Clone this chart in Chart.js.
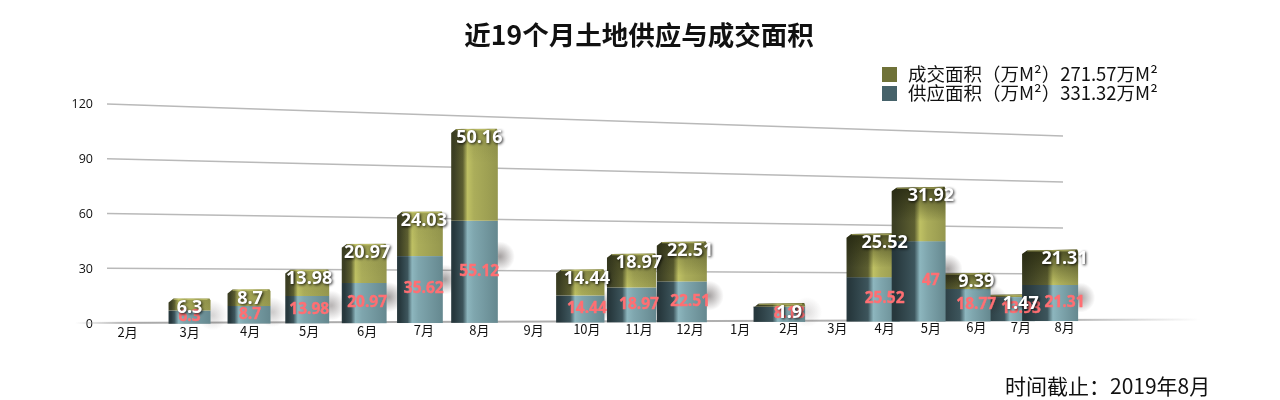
<!DOCTYPE html>
<html lang="zh">
<head>
<meta charset="utf-8">
<title>近19个月土地供应与成交面积</title>
<script src="https://cdn.jsdelivr.net/npm/chart.js@4"></script>
<style>
  html, body { margin: 0; padding: 0; background: #fff; }
  #wrap { position: relative; width: 1280px; height: 400px; overflow: hidden; font-family: "Noto Sans CJK SC", "Noto Sans", sans-serif; color: #111; }
  #title { position: absolute; left: 0; width: 1278px; top: 14px; text-align: center; font-size: 26.5px; line-height: 40px; font-weight: bold; }
  .legend-row { position: absolute; left: 882px; height: 18px; line-height: 18px; font-size: 18.5px; white-space: nowrap; }
  .legend-row i { display: inline-block; width: 15px; height: 15px; margin-right: 11px; vertical-align: -1px; }
  #note { position: absolute; left: 1005px; top: 371px; font-size: 21px; line-height: 28px; white-space: nowrap; }
</style>
</head>
<body>
<div id="wrap">
  <canvas id="chart" width="1280" height="400"></canvas>
  <div id="title"></div>
  <div class="legend-row" style="top:64px"><i style="background:#6f7238"></i><span id="legendDeal"></span></div>
  <div class="legend-row" style="top:83px"><i style="background:#46626a"></i><span id="legendSupply"></span></div>
  <div id="note">时间截止：2019年8月</div>
</div>
<script>
const titleText = '近19个月土地供应与成交面积';
const months = ['2月','3月','4月','5月','6月','7月','8月','9月','10月','11月','12月','1月','2月','3月','4月','5月','6月','7月','8月'];
const supplyValues = [null,6.3,8.7,13.98,20.97,35.62,55.12,null,14.44,18.97,22.51,null,8.18,null,25.52,47,18.77,13.93,21.31];
const dealValues = [null,6.3,8.7,13.98,20.97,24.03,50.16,null,14.44,18.97,22.51,null,1.9,null,25.52,31.92,9.39,1.47,21.31];
const yTicks = [0,30,60,90,120];
const supplyName = '供应面积（万M²）331.32万M²';
const dealName = '成交面积（万M²）271.57万M²';

document.getElementById('title').textContent = titleText;
document.getElementById('legendDeal').textContent = dealName;
document.getElementById('legendSupply').textContent = supplyName;

const lerp = (a, b, t) => a + (b - a) * t;

// the original is a slanted 3D picture, so scale pixels get bent before drawing
const GRID_LEFT = 107, GRID_RIGHT = 1063;
function bendX(index) {
  return (63.96 * index + 127.7) / (0.01119 * index + 1);
}
function gridT(x) { return (x - GRID_LEFT) / (GRID_RIGHT - GRID_LEFT); }
function floorY(x) { return lerp(323, 320, gridT(x)); }
function unitY(x) { return lerp(1.825, 1.533, gridT(x)); }
function bendY(x, value, lift) { return floorY(x) - value * unitY(x) * (lift || 1); }

const BAR_LIFT = 1.07;
const olive = { dark: '#3d4024', mid: '#5d5f31', bright: '#bfc164', light: '#abad5a', right: '#95974e' };
const teal = { dark: '#27383d', mid: '#3d555c', bright: '#8db6be', light: '#7fa6ae', right: '#65888f' };

function barGradient(ctx, left, width, pal, hp) {
  const g = ctx.createLinearGradient(left, 0, left + width, 0);
  g.addColorStop(0, pal.dark);
  g.addColorStop(0.06, pal.dark);
  g.addColorStop(Math.max(hp - 0.1, 0.08), pal.mid);
  g.addColorStop(hp, pal.bright);
  g.addColorStop(hp + 0.14, pal.light);
  g.addColorStop(1, pal.right);
  return g;
}

function drawBar(ctx, idx, yScale, supplyEl, dealEl) {
  const labelX = bendX(idx);
  const cx = labelX - (labelX - 190) * 0.0165;
  const w = 42 + (cx - 190) * 0.0163;
  const left = cx - w / 2;
  const bottom = floorY(cx) + 1;
  const hp = lerp(0.24, 0.55, Math.min((cx - 190) / 800, 1));

  const midVal = yScale.getValueForPixel(supplyEl.y);
  const topVal = yScale.getValueForPixel(dealEl.y);
  const midY = bendY(cx, midVal, BAR_LIFT);
  const topY = bendY(cx, topVal, BAR_LIFT);
  const tilt = (cx - 190) * 0.004;

  // soft shadow next to the bar
  const sy = midY + (bottom - midY) * 0.35;
  const blobAlpha = Math.min(0.4, 0.05 + (bottom - topY) * 0.005);
  const blob = ctx.createRadialGradient(left + w + 2, sy, 1, left + w + 2, sy, 15);
  blob.addColorStop(0, `rgba(40,30,30,${blobAlpha})`);
  blob.addColorStop(1, 'rgba(40,30,30,0)');
  ctx.fillStyle = blob;
  ctx.fillRect(left + w - 15, sy - 15, 32, 30);

  // teal lower part
  ctx.fillStyle = barGradient(ctx, left, w, teal, hp);
  ctx.fillRect(left, midY, w, bottom - midY);

  // olive upper part with cut corner and a cap
  ctx.beginPath();
  ctx.moveTo(left, midY);
  ctx.lineTo(left, topY + 4);
  ctx.lineTo(left + 5, topY + tilt * 0.15);
  ctx.lineTo(left + w - 1, topY - tilt * 0.15);
  ctx.lineTo(left + w, topY + 2);
  ctx.lineTo(left + w, midY);
  ctx.closePath();
  ctx.fillStyle = barGradient(ctx, left, w, olive, hp);
  ctx.fill();

  const shadeH = Math.min(midY - topY, 34);
  const shade = ctx.createLinearGradient(0, topY, 0, topY + shadeH);
  const shadeT = Math.max(0, Math.min((cx - 450) / 420, 1));
  shade.addColorStop(0, `rgba(30,32,10,${lerp(0.08, 0.65, shadeT)})`);
  shade.addColorStop(1, 'rgba(30,32,10,0)');
  ctx.save();
  ctx.clip();
  ctx.fillStyle = shade;
  ctx.fillRect(left, topY - 2, w, shadeH + 2);
  ctx.fillStyle = 'rgba(215,215,120,0.55)';
  ctx.fillRect(left + 5, topY, w - 8, 1.5);
  ctx.restore();
}

const bentStage = {
  id: 'bentStage',
  beforeDatasetsDraw(chart) {
    const { ctx, scales: { y: yScale } } = chart;
    ctx.save();

    // slanted grid lines
    ctx.strokeStyle = '#b9b9b9';
    ctx.lineWidth = 1.4;
    yTicks.filter(v => v > 0).forEach(v => {
      ctx.beginPath();
      ctx.moveTo(GRID_LEFT, bendY(GRID_LEFT, v));
      ctx.lineTo(GRID_RIGHT, bendY(GRID_RIGHT, v));
      ctx.stroke();
    });

    // floor fades out at both ends
    const floor = ctx.createLinearGradient(75, 0, 1200, 0);
    floor.addColorStop(0, 'rgba(170,170,170,0)');
    floor.addColorStop(0.05, 'rgba(170,170,170,1)');
    floor.addColorStop(0.88, 'rgba(170,170,170,0.9)');
    floor.addColorStop(1, 'rgba(170,170,170,0)');
    ctx.strokeStyle = floor;
    ctx.lineWidth = 2;
    ctx.beginPath();
    ctx.moveTo(75, floorY(75));
    ctx.lineTo(1200, floorY(1200));
    ctx.stroke();

    // bars, taller ones stay in front
    const supplyMeta = chart.getDatasetMeta(0).data;
    const dealMeta = chart.getDatasetMeta(1).data;
    months.map((_, i) => i)
      .filter(i => supplyValues[i] !== null)
      .sort((a, b) => (supplyValues[a] + dealValues[a]) - (supplyValues[b] + dealValues[b]))
      .forEach(i => drawBar(ctx, i, yScale, supplyMeta[i], dealMeta[i]));

    // month labels
    ctx.fillStyle = '#111';
    ctx.font = '13px "Noto Sans CJK SC"';
    ctx.textAlign = 'center';
    ctx.textBaseline = 'middle';
    months.forEach((m, i) => {
      const x = bendX(i);
      ctx.fillText(m, x, lerp(332, 327, gridT(x)));
    });

    // value labels on the lower part
    ctx.font = 'bold 15.5px "Open Sans"';
    ctx.fillStyle = '#ff6f73';
    ctx.strokeStyle = '#ff6f73';
    ctx.lineWidth = 0.4;
    months.forEach((_, i) => {
      if (supplyValues[i] === null) return;
      const x = bendX(i);
      const cx = x - (x - 190) * 0.0165;
      const y = Math.min((floorY(cx) + bendY(cx, supplyValues[i], BAR_LIFT)) / 2, floorY(cx) - 6);
      ctx.fillText(String(supplyValues[i]), x, y);
      ctx.strokeText(String(supplyValues[i]), x, y);
    });

    // value labels on the upper part
    ctx.font = 'bold 18px "Open Sans"';
    ctx.fillStyle = '#fff';
    ctx.shadowColor = 'rgba(0,0,0,0.9)';
    ctx.shadowBlur = 3;
    ctx.shadowOffsetX = 1;
    ctx.shadowOffsetY = 1;
    months.forEach((_, i) => {
      if (dealValues[i] === null) return;
      const x = bendX(i);
      const cx = x - (x - 190) * 0.0165;
      const total = supplyValues[i] + dealValues[i];
      ctx.fillText(String(dealValues[i]), x, bendY(cx, total, BAR_LIFT) + 9);
    });

    ctx.restore();
    return false;
  }
};

new Chart(document.getElementById('chart'), {
  type: 'bar',
  data: {
    labels: months,
    datasets: [
      { label: supplyName, data: supplyValues, backgroundColor: '#46626a' },
      { label: dealName, data: dealValues, backgroundColor: '#6f7238' }
    ]
  },
  plugins: [bentStage],
  options: {
    responsive: false,
    animation: false,
    layout: { padding: { left: 0, right: 217, top: 104, bottom: 68 } },
    plugins: {
      legend: { display: false },
      tooltip: { enabled: false },
      title: { display: false }
    },
    scales: {
      x: { stacked: true, grid: { display: false }, border: { display: false }, ticks: { display: false } },
      y: {
        stacked: true,
        min: 0,
        max: 120,
        afterFit(scale) { scale.width = 107; },
        afterBuildTicks(scale) { scale.ticks = yTicks.map(v => ({ value: v })); },
        grid: { display: false },
        border: { display: false },
        ticks: { color: '#111', font: { family: '"Open Sans"', size: 12.5 }, padding: 6 }
      }
    }
  }
});
</script>
</body>
</html>
